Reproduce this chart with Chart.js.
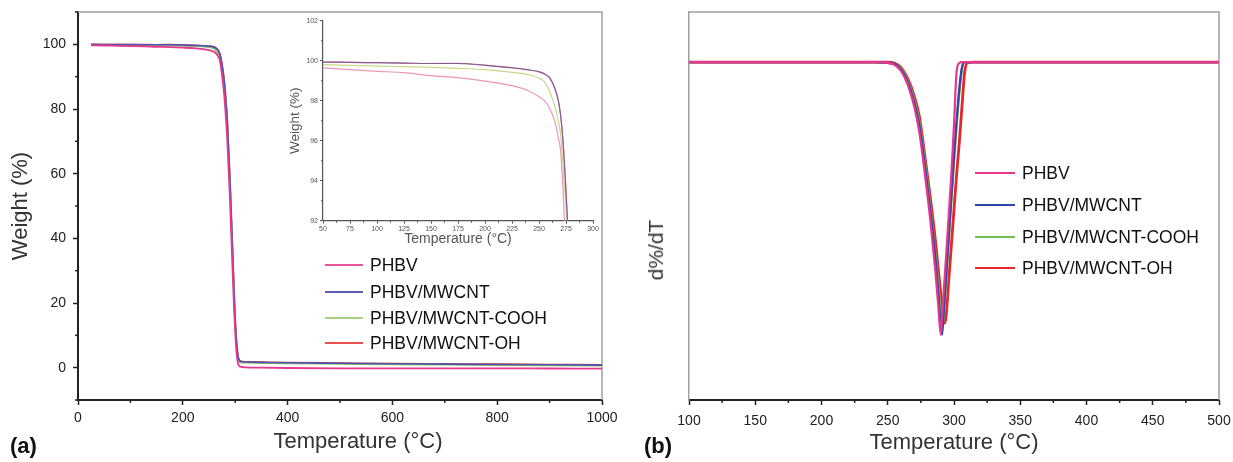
<!DOCTYPE html>
<html><head><meta charset="utf-8">
<script src="https://cdn.jsdelivr.net/npm/chart.js@4.4.1/dist/chart.umd.min.js"></script>
<style>
html,body{margin:0;padding:0;background:#fff;}
body{width:1233px;height:462px;overflow:hidden;position:relative;font-family:"Liberation Sans",Arial,sans-serif;}
canvas{position:absolute;}
.tag{position:absolute;font-weight:bold;font-size:22px;line-height:26px;color:#111;}
.ylab{position:absolute;font-size:21px;line-height:24px;color:#333;white-space:nowrap;transform:translate(-50%,-50%) rotate(-90deg);}
.xlab{position:absolute;font-size:22px;line-height:26px;color:#333;white-space:nowrap;transform:translate(-50%,-50%);}
</style></head><body>
<canvas id="cA" width="620" height="462" style="left:0;top:0"></canvas>
<canvas id="cI" width="318" height="255" style="left:283px;top:8px"></canvas>
<canvas id="cB" width="593" height="462" style="left:640px;top:0"></canvas>
<div class="tag" style="left:10px;top:433px">(a)</div>
<div class="tag" style="left:644px;top:433px">(b)</div>
<div class="xlab" style="left:358px;top:441px">Temperature (°C)</div>
<div class="ylab" style="left:656px;top:250px">d%/dT</div>
<script>
// ---------- data ----------
const seriesNames = ['PHBV', 'PHBV/MWCNT', 'PHBV/MWCNT-COOH', 'PHBV/MWCNT-OH'];

// TGA (panel a): temperature (°C) and weight (%)
const tgaTemp  = [25, 50, 75, 100, 125, 150, 175, 200, 225, 240, 250, 255, 260, 265, 268, 270, 272, 274, 276, 278, 280, 285, 290, 295, 300, 305, 310, 320, 350, 400, 500, 600, 700, 800, 900, 1000];
const wPHBV    = [99.70, 99.64, 99.55, 99.47, 99.40, 99.25, 99.15, 98.98, 98.75, 98.50, 98.20, 98.00, 97.60, 96.90, 96.10, 95.50, 93.80, 91.50, 89.0, 86.0, 82.5, 70.0, 52.0, 30.0, 11.0, 1.5, 0.3, 0.1, 0.0, -0.1, -0.2, -0.2, -0.2, -0.2, -0.25, -0.3];
const wMWCNT   = [99.95, 99.93, 99.92, 99.90, 99.88, 99.86, 99.86, 99.77, 99.64, 99.54, 99.44, 99.33, 99.12, 98.55, 97.95, 97.25, 96.1, 94.4, 92.4, 89.9, 86.8, 75.5, 57.5, 35.5, 14.0, 3.8, 1.9, 1.75, 1.65, 1.5, 1.35, 1.2, 1.1, 1.0, 0.9, 0.8];
const wCOOH    = [99.85, 99.80, 99.77, 99.73, 99.70, 99.67, 99.62, 99.55, 99.42, 99.30, 99.13, 98.95, 98.45, 97.65, 96.95, 96.30, 95.0, 93.4, 91.9, 89.5, 86.5, 75.0, 57.0, 35.0, 13.5, 3.4, 1.6, 1.5, 1.4, 1.3, 1.15, 1.0, 0.9, 0.8, 0.7, 0.6];
const wOH      = [99.95, 99.93, 99.92, 99.90, 99.88, 99.86, 99.87, 99.78, 99.65, 99.55, 99.45, 99.35, 99.15, 98.60, 98.00, 97.30, 96.2, 94.5, 92.5, 90.0, 87.0, 76.0, 58.0, 36.0, 15.0, 4.0, 2.0, 1.8, 1.7, 1.55, 1.4, 1.25, 1.15, 1.05, 0.95, 0.85];

// DTG (panel b): temperature (°C) and d%/dT (arbitrary units)
const dtgTemp  = [100, 150, 200, 240, 250, 255, 260, 265, 270, 274, 278, 282, 286, 288, 290, 291, 292, 293, 294, 296, 298, 300, 302, 304, 306, 308, 310, 315, 350, 400, 450, 500];
const dPHBV    = [0, 0, 0, 0, -0.01, -0.03, -0.10, -0.25, -0.50, -0.80, -1.25, -1.75, -2.35, -2.70, -3.05, -2.85, -2.62, -2.40, -2.18, -1.72, -1.25, -0.70, -0.10, -0.01, 0, 0, 0, 0, 0, 0, 0, 0];
const dMWCNT   = [0, 0, 0, 0, -0.01, -0.02, -0.08, -0.22, -0.45, -0.72, -1.15, -1.65, -2.20, -2.55, -2.95, -3.05, -2.85, -2.62, -2.40, -1.95, -1.50, -1.05, -0.65, -0.30, -0.06, 0, 0, 0, 0, 0, 0, 0];
const dCOOH    = [0, 0, 0, 0, -0.01, -0.02, -0.07, -0.20, -0.42, -0.68, -1.10, -1.60, -2.15, -2.45, -2.80, -2.93, -2.90, -2.70, -2.48, -2.02, -1.57, -1.12, -0.70, -0.35, -0.08, 0, 0, 0, 0, 0, 0, 0];
const dOH      = [0, 0, 0, 0, 0, -0.01, -0.06, -0.18, -0.38, -0.62, -1.05, -1.50, -2.00, -2.30, -2.58, -2.72, -2.85, -2.92, -2.85, -2.45, -2.05, -1.65, -1.25, -0.90, -0.50, -0.12, -0.01, 0, 0, 0, 0, 0];

// tick labels
const tgaXTicks   = [0, 200, 400, 600, 800, 1000];
const tgaXMinor   = [100, 300, 500, 700, 900];
const tgaYTicks   = [0, 20, 40, 60, 80, 100];
const tgaYMinor   = [-10, 10, 30, 50, 70, 90, 110];
const insetXTicks = [50, 75, 100, 125, 150, 175, 200, 225, 250, 275, 300];
const insetXMinor = [62.5, 87.5, 112.5, 137.5, 162.5, 187.5, 212.5, 237.5, 262.5, 287.5];
const insetYTicks = [92, 94, 96, 98, 100, 102];
const insetYMinor = [93, 95, 97, 99, 101];
const dtgXTicks   = [100, 150, 200, 250, 300, 350, 400, 450, 500];
const dtgXMinor   = [125, 175, 225, 275, 325, 375, 425, 475];

// ---------- styling ----------
const tgaColors   = ['#e6388f', '#4a55b0', '#8cc462', '#e3303a'];
const insetColors = ['rgba(236,130,170,0.85)', 'rgba(110,80,150,0.75)', 'rgba(195,215,130,0.95)', 'rgba(190,70,95,0.7)'];
const dtgColors   = ['#e8368f', '#3446a8', '#6fbf4a', '#e5262b'];
const legAColors  = ['#e8559a', '#5a5fb5', '#a8d080', '#e8504f'];

const FONT = '"Liberation Sans", Arial, sans-serif';
Chart.defaults.font.family = FONT;
Chart.defaults.color = '#222';

const framePlugin = {
  id: 'frame',
  beforeDatasetsDraw(chart, args, o) {
    if (!o || !o.color) return;
    const {left, right, top, bottom} = chart.chartArea;
    const c = chart.ctx;
    c.save(); c.strokeStyle = o.color; c.lineWidth = o.width || 1;
    c.beginPath();
    c.moveTo(left, top); c.lineTo(right, top); c.lineTo(right, bottom);
    c.stroke(); c.restore();
  }
};
const minorPlugin = {
  id: 'minorTicks',
  afterDraw(chart, args, o) {
    if (!o || !o.axes) return;
    const c = chart.ctx;
    o.axes.forEach(a => {
      const s = chart.scales[a.id];
      c.save(); c.strokeStyle = a.color; c.lineWidth = a.width;
      a.values.forEach(v => {
        c.beginPath();
        if (s.isHorizontal()) { const x = s.getPixelForValue(v); c.moveTo(x, s.top); c.lineTo(x, s.top + a.len); }
        else { const y = s.getPixelForValue(v); c.moveTo(s.right, y); c.lineTo(s.right - a.len, y); }
        c.stroke();
      });
      c.restore();
    });
  }
};

function sets(xs, ys, colors, widths) {
  return ys.map((arr, i) => ({
    label: seriesNames[i],
    data: xs.map((x, j) => ({x: x, y: arr[j]})),
    borderColor: colors[i], borderWidth: widths[i], pointRadius: 0,
    cubicInterpolationMode: 'monotone', fill: false
  }));
}
const fixTicks = arr => s => { s.ticks = arr.map(v => ({value: v})); };
const fitX = h => s => { s.height = h; s.paddingLeft = 0; s.paddingRight = 0; };
const fitY = w => s => { s.width = w; s.paddingTop = 0; s.paddingBottom = 0; };
const base = {
  responsive: false, animation: false, events: [],
  plugins: {legend: {display: false}, tooltip: {enabled: false}}
};

// ---------- panel (a) ----------
new Chart(document.getElementById('cA'), {
  type: 'line',
  data: {datasets: sets(tgaTemp, [wPHBV, wMWCNT, wCOOH, wOH], tgaColors, [1.8, 1.6, 1.6, 1.8])},
  options: Object.assign({}, base, {
    layout: {padding: {top: 12, right: 18, left: 0, bottom: 0}},
    plugins: Object.assign({}, base.plugins, {
      frame: {color: '#a0a0a0', width: 1.5},
      minorTicks: {axes: [
        {id: 'x', values: tgaXMinor, len: 3, color: '#222', width: 1.5},
        {id: 'y', values: tgaYMinor, len: 3, color: '#222', width: 1.5}]}
    }),
    scales: {
      x: {type: 'linear', min: 0, max: 1000, afterBuildTicks: fixTicks(tgaXTicks), afterFit: fitX(62),
        ticks: {font: {size: 14}, color: '#222', padding: 5, maxRotation: 0, autoSkip: false, callback: v => String(v)},
        grid: {drawOnChartArea: false, drawTicks: true, tickLength: 5, tickWidth: 1.5, tickColor: '#222'},
        border: {display: true, color: '#222', width: 2}},
      y: {type: 'linear', min: -10, max: 110, afterBuildTicks: fixTicks(tgaYTicks), afterFit: fitY(78),
        ticks: {font: {size: 14}, color: '#222', padding: 7, autoSkip: false, callback: v => String(v)},
        grid: {drawOnChartArea: false, drawTicks: true, tickLength: 5, tickWidth: 1.5, tickColor: '#222'},
        border: {display: true, color: '#222', width: 2},
        title: {display: true, text: 'Weight (%)', font: {size: 22}, color: '#333', padding: {top: 8, bottom: 0}}}
    }
  }),
  plugins: [framePlugin, minorPlugin]
});

// ---------- inset ----------
new Chart(document.getElementById('cI'), {
  type: 'line',
  data: {datasets: sets(tgaTemp, [wPHBV, wMWCNT, wCOOH, wOH], insetColors, [1.2, 1.2, 1.2, 1.2])},
  options: Object.assign({}, base, {
    layout: {padding: {top: 12.7, right: 8, left: 0, bottom: 0}},
    plugins: Object.assign({}, base.plugins, {
      minorTicks: {axes: [
        {id: 'x', values: insetXMinor, len: 2, color: '#555', width: 1},
        {id: 'y', values: insetYMinor, len: 2, color: '#555', width: 1}]}
    }),
    scales: {
      x: {type: 'linear', min: 50, max: 300, afterBuildTicks: fixTicks(insetXTicks), afterFit: fitX(42.3),
        ticks: {font: {size: 7}, color: '#555', padding: 1, maxRotation: 0, autoSkip: false, callback: v => String(v)},
        grid: {drawOnChartArea: false, drawTicks: true, tickLength: 3, tickWidth: 1, tickColor: '#555'},
        border: {display: true, color: '#555', width: 1.2},
        title: {display: true, text: 'Temperature (°C)', font: {size: 14}, color: '#555', padding: {top: 0, bottom: 15}}},
      y: {type: 'linear', min: 92, max: 102, afterBuildTicks: fixTicks(insetYTicks), afterFit: fitY(40),
        ticks: {font: {size: 7}, color: '#555', padding: 2, autoSkip: false, callback: v => String(v)},
        grid: {drawOnChartArea: false, drawTicks: true, tickLength: 3, tickWidth: 1, tickColor: '#555'},
        border: {display: true, color: '#555', width: 1.2},
        title: {display: true, text: 'Weight (%)', font: {size: 13.5}, color: '#555', padding: {top: 4, bottom: 0}}}
    }
  }),
  plugins: [minorPlugin]
});

// ---------- panel (b) ----------
new Chart(document.getElementById('cB'), {
  type: 'line',
  data: {datasets: sets(dtgTemp, [dPHBV, dMWCNT, dCOOH, dOH], dtgColors, [2.2, 2.3, 2.3, 2.8])},
  options: Object.assign({}, base, {
    layout: {padding: {top: 12, right: 14, left: 0, bottom: 0}},
    plugins: Object.assign({}, base.plugins, {
      frame: {color: '#a0a0a0', width: 1.5},
      minorTicks: {axes: [{id: 'x', values: dtgXMinor, len: 3, color: '#222', width: 1.5}]}
    }),
    scales: {
      x: {type: 'linear', min: 100, max: 500, afterBuildTicks: fixTicks(dtgXTicks), afterFit: fitX(62),
        ticks: {font: {size: 14}, color: '#222', padding: 8, maxRotation: 0, autoSkip: false, callback: v => String(v)},
        grid: {drawOnChartArea: false, drawTicks: true, tickLength: 5, tickWidth: 1.5, tickColor: '#222'},
        border: {display: true, color: '#222', width: 2},
        title: {display: true, text: 'Temperature (°C)', font: {size: 22}, color: '#333', padding: {top: 0, bottom: 6}}},
      y: {type: 'linear', min: -3.78, max: 0.56, afterFit: fitY(49),
        ticks: {display: false},
        grid: {display: false},
        border: {display: true, color: '#a0a0a0', width: 1.5}}
    }
  }),
  plugins: [framePlugin, minorPlugin]
});

// ---------- legends (HTML, real text) ----------
function legend(colors, lineX, lineW, textX, rows, fontSize, lw) {
  seriesNames.forEach((n, i) => {
    const l = document.createElement('div');
    l.style.cssText = `position:absolute;left:${lineX}px;top:${rows[i] - lw / 2}px;width:${lineW}px;height:${lw}px;background:${colors[i]}`;
    const t = document.createElement('div');
    t.textContent = n;
    t.style.cssText = `position:absolute;left:${textX}px;top:${rows[i] - fontSize * 0.6}px;font-size:${fontSize}px;line-height:${fontSize * 1.2}px;color:#111;white-space:nowrap`;
    document.body.append(l, t);
  });
}
legend(legAColors, 325, 38, 370, [265, 292, 318, 343], 17.5, 2);
legend(dtgColors, 975, 40, 1022, [173, 205, 237, 268], 17.5, 2.2);
</script>
</body></html>
